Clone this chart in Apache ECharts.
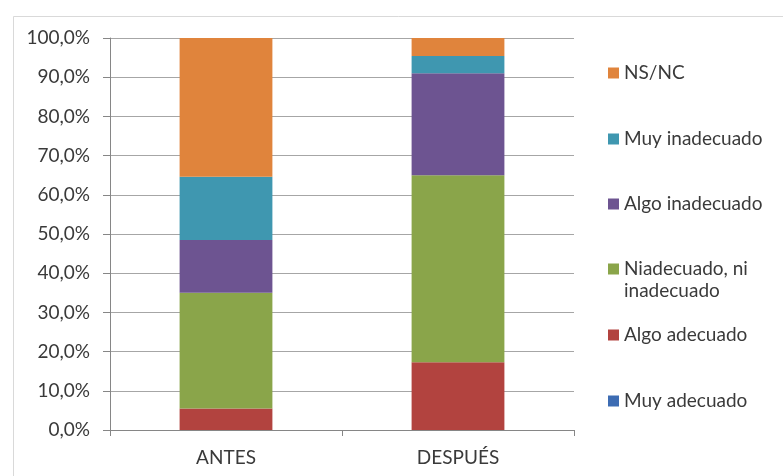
<!DOCTYPE html>
<html>
<head>
<meta charset="utf-8">
<script src="https://cdn.jsdelivr.net/npm/echarts@6/dist/echarts.min.js"></script>
<style>
  html, body { margin: 0; padding: 0; background: #ffffff; }
  #chart { width: 783px; height: 476px; }
</style>
</head>
<body>
<div id="chart"></div>
<script>
// Periods compared
const categories = ['ANTES', 'DESPUÉS'];

// Share of answers (%) per rating, stacked bottom to top
const muyAdecuado     = [0.0, 0.0];
const algoAdecuado    = [5.5, 17.3];
const niNi            = [29.5, 47.7];
const algoInadecuado  = [13.5, 26.0];
const muyInadecuado   = [16.1, 4.4];
const nsnc            = [35.4, 4.6];

const seriesNames = ['Muy adecuado', 'Algo adecuado', 'Niadecuado, ni inadecuado',
                     'Algo inadecuado', 'Muy inadecuado', 'NS/NC'];
const seriesValues = [muyAdecuado, algoAdecuado, niNi, algoInadecuado, muyInadecuado, nsnc];
const seriesColors = ['#3d6cb3', '#b2433f', '#8aa54a', '#6d5491', '#3f97b0', '#e0843c'];

// Y axis ticks
const yTicks = [0, 10, 20, 30, 40, 50, 60, 70, 80, 90, 100];

const FONT = 'Lato';
const TEXT = '#3a3a3a';
const FS = 19;

const chart = echarts.init(document.getElementById('chart'), null, { renderer: 'canvas' });

// Legend entries, top to bottom, with the vertical centre of each icon
const legendRows = [
  { name: 'NS/NC', y: 73 },
  { name: 'Muy inadecuado', y: 139 },
  { name: 'Algo inadecuado', y: 204 },
  { name: 'Niadecuado, ni inadecuado', y: 269, twoLine: true },
  { name: 'Algo adecuado', y: 335 },
  { name: 'Muy adecuado', y: 401 }
];
const LINE_H = 22;
const legends = legendRows.map(r => ({
  orient: 'vertical',
  left: 608,
  top: r.twoLine ? r.y - 1.5 * LINE_H : r.y - LINE_H / 2,
  padding: 0,
  itemWidth: 11,
  itemHeight: 11,
  icon: 'rect',
  selectedMode: false,
  data: [r.name],
  // blank first line keeps the icon level with the first visible line
  formatter: r.twoLine ? () => ' \nNiadecuado, ni\ninadecuado' : undefined,
  textStyle: {
    fontFamily: FONT, fontSize: FS, color: TEXT, lineHeight: LINE_H
  }
}));

chart.setOption({
  backgroundColor: '#ffffff',
  animation: false,
  graphic: [{
    type: 'rect',
    left: 11, top: 14,
    shape: { width: 800, height: 500 },
    style: { fill: 'none', stroke: '#d9d9d9', lineWidth: 1 },
    silent: true
  }],
  legend: legends,
  grid: { left: 110, right: 209, top: 38, bottom: 46 },
  xAxis: {
    type: 'category',
    data: categories,
    boundaryGap: true,
    axisLine: { lineStyle: { color: '#868686', width: 1 } },
    axisTick: { show: true, length: 6, interval: 0, lineStyle: { color: '#868686' } },
    axisLabel: { fontFamily: FONT, fontSize: FS, color: TEXT, margin: 18 }
  },
  yAxis: {
    type: 'value',
    min: 0, max: 100, interval: 10,
    axisLine: { show: true, lineStyle: { color: '#868686', width: 1 } },
    axisTick: { show: true, length: 7, inside: false, lineStyle: { color: '#868686' } },
    splitLine: { show: true, lineStyle: { color: '#a6a6a6', width: 1 } },
    axisLabel: {
      fontFamily: FONT, fontSize: FS, color: TEXT, margin: 20,
      formatter: v => yTicks.includes(v) ? v.toFixed(1).replace('.', ',') + '%' : ''
    }
  },
  series: seriesNames.map((name, i) => ({
    name,
    type: 'bar',
    stack: 'total',
    barWidth: '40%',
    data: seriesValues[i],
    itemStyle: { color: seriesColors[i] }
  }))
});
</script>
</body>
</html>
